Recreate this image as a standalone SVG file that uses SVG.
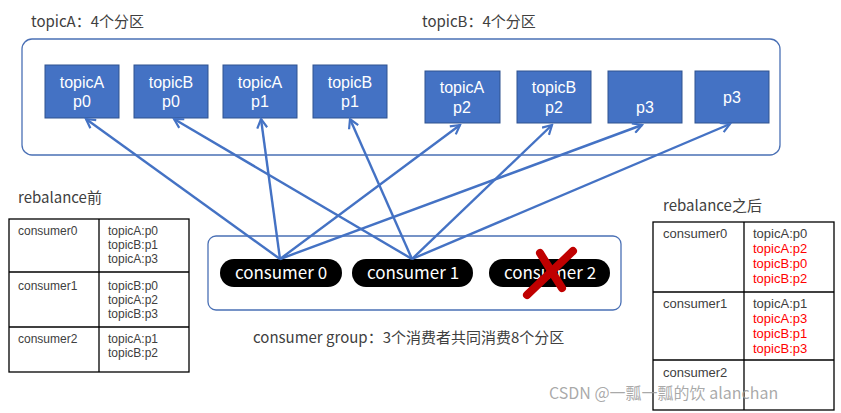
<svg xmlns="http://www.w3.org/2000/svg" width="841" height="413" viewBox="0 0 841 413">
<defs>
<marker id="arr" viewBox="0 0 12 12" refX="10" refY="6" markerWidth="5" markerHeight="5" orient="auto" markerUnits="strokeWidth">
<polyline points="1,1 10,6 1,11" fill="none" stroke="#4472C4" stroke-width="2.2"/>
</marker>
</defs>
<style>
text{font-family:"Noto Sans CJK SC","Noto Sans",sans-serif;}
.lbl{font-size:15px;fill:#404040;}
.part rect{fill:#4472C4;stroke:#2F528F;stroke-width:1;}
.part text{fill:#fff;font-family:"Liberation Sans",Arial,sans-serif;font-size:16px;text-anchor:middle;}
.pill rect{fill:#000;}
.pill text{fill:#fff;font-size:17px;text-anchor:middle;}
.frame{fill:none;stroke:#4A70B5;stroke-width:1.3;}
.tbl{fill:none;stroke:#000;stroke-width:1.3;}
.t{font-family:"Liberation Sans",Arial,sans-serif;font-size:13px;fill:#404040;}
.s{font-size:12px;}
.r{fill:#FF0000;}
.conn line{stroke:#4472C4;stroke-width:2.4;marker-end:url(#arr);}
</style>
<rect width="841" height="413" fill="#fff"/>

<text class="lbl" x="31" y="27">topicA：4个分区</text>
<text class="lbl" x="422" y="27">topicB：4个分区</text>
<rect class="frame" x="22" y="39" width="758" height="116" rx="10"/>

<g id="p1" class="part"><rect x="45" y="65" width="74" height="53"/><text x="82" y="88">topicA</text><text x="82" y="107">p0</text></g>
<g id="p2" class="part"><rect x="134" y="65" width="74" height="53"/><text x="171" y="88">topicB</text><text x="171" y="107">p0</text></g>
<g id="p3" class="part"><rect x="223" y="65" width="74" height="53"/><text x="260" y="88">topicA</text><text x="260" y="107">p1</text></g>
<g id="p4" class="part"><rect x="313" y="65" width="74" height="53"/><text x="350" y="88">topicB</text><text x="350" y="107">p1</text></g>
<g id="p5" class="part"><rect x="425" y="71" width="75" height="52"/><text x="462" y="93">topicA</text><text x="462" y="113">p2</text></g>
<g id="p6" class="part"><rect x="517" y="71" width="74" height="52"/><text x="554" y="93">topicB</text><text x="554" y="113">p2</text></g>
<g id="p7" class="part"><rect x="608" y="71" width="74" height="52"/><text x="645" y="113">p3</text></g>
<g id="p8" class="part"><rect x="695" y="71" width="74" height="52"/><text x="732" y="103">p3</text></g>

<rect class="frame" x="208" y="236" width="413" height="74" rx="8"/>
<g id="c0" class="pill"><rect x="220" y="259" width="122" height="28" rx="14"/><text x="281" y="279">consumer 0</text></g>
<g id="c1" class="pill"><rect x="352" y="259" width="121" height="28" rx="14"/><text x="413" y="279">consumer 1</text></g>
<g id="c2" class="pill"><rect x="489" y="259" width="121" height="28" rx="14"/><text x="550" y="279">consumer 2</text>
<path d="M527,295 L573,251" stroke="#C00000" stroke-width="8" stroke-linecap="round"/>
<path d="M540,253 L562,288" stroke="#C00000" stroke-width="8" stroke-linecap="round"/>
</g>
<text class="lbl" x="253" y="343">consumer group：3个消费者共同消费8个分区</text>

<g id="connectors" class="conn">
<line x1="280" y1="259" x2="86" y2="119"/>
<line x1="280" y1="259" x2="261" y2="119"/>
<line x1="280" y1="259" x2="460" y2="125"/>
<line x1="280" y1="259" x2="642" y2="125"/>
<line x1="412" y1="259" x2="174" y2="119"/>
<line x1="412" y1="259" x2="350" y2="119"/>
<line x1="412" y1="259" x2="552" y2="125"/>
<line x1="412" y1="259" x2="730" y2="124"/>
</g>

<g id="table-before">
<text class="lbl" x="18" y="203">rebalance前</text>
<rect class="tbl" x="9" y="219" width="180" height="153"/>
<line class="tbl" x1="99" y1="219" x2="99" y2="372"/>
<line class="tbl" x1="9" y1="272" x2="189" y2="272"/>
<line class="tbl" x1="9" y1="327" x2="189" y2="327"/>
<text class="t s" x="18" y="235">consumer0</text>
<text class="t s" x="108" y="235">topicA:p0</text>
<text class="t s" x="108" y="249">topicB:p1</text>
<text class="t s" x="108" y="263">topicA:p3</text>
<text class="t s" x="18" y="290">consumer1</text>
<text class="t s" x="108" y="290">topicB:p0</text>
<text class="t s" x="108" y="304">topicA:p2</text>
<text class="t s" x="108" y="318">topicB:p3</text>
<text class="t s" x="18" y="343">consumer2</text>
<text class="t s" x="108" y="343">topicA:p1</text>
<text class="t s" x="108" y="357">topicB:p2</text>
</g>

<g id="table-after">
<text class="lbl" x="663" y="211">rebalance之后</text>
<rect class="tbl" x="653" y="222" width="181" height="188"/>
<line class="tbl" x1="744" y1="222" x2="744" y2="410"/>
<line class="tbl" x1="653" y1="292" x2="834" y2="292"/>
<line class="tbl" x1="653" y1="360" x2="834" y2="360"/>
<text class="t" x="663" y="238">consumer0</text>
<text class="t" x="753" y="238">topicA:p0</text>
<text class="t r" x="753" y="253">topicA:p2</text>
<text class="t r" x="753" y="268">topicB:p0</text>
<text class="t r" x="753" y="283">topicB:p2</text>
<text class="t" x="663" y="308">consumer1</text>
<text class="t" x="753" y="308">topicA:p1</text>
<text class="t r" x="753" y="323">topicA:p3</text>
<text class="t r" x="753" y="338">topicB:p1</text>
<text class="t r" x="753" y="353">topicB:p3</text>
<text class="t" x="663" y="377">consumer2</text>
</g>

<text x="549" y="399" style="font-size:16px;fill:#9a9a9a;fill-opacity:0.85;">CSDN @一瓢一瓢的饮 alanchan</text>
</svg>
